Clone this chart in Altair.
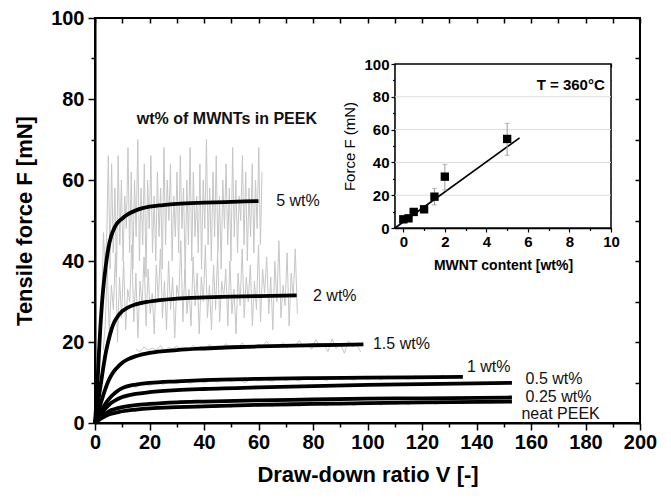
import altair as alt
import pandas as pd

FONT = "Liberation Sans"

# ---------------- data: fitted curves (main plot) ----------------
fit_series = ["5 wt%", "2 wt%", "1.5 wt%", "1 wt%", "0.5 wt%", "0.25 wt%", "neat PEEK"]
fit_v = {
    "5 wt%": [0, 0.5, 1, 1.5, 2, 2.5, 3, 4, 5, 6, 7, 8, 10, 12, 15, 20, 25, 30, 40, 50, 60],
    "2 wt%": [0, 1, 2, 3, 4, 5, 6, 7, 8, 10, 12, 15, 20, 30, 40, 50, 60, 74],
    "1.5 wt%": [0, 1, 2, 3, 4, 5, 6, 7, 8, 10, 12, 15, 20, 30, 40, 50, 60, 80, 98.5],
    "1 wt%": [0, 1, 2, 3, 4, 6, 8, 10, 15, 20, 30, 40, 60, 80, 100, 135],
    "0.5 wt%": [0, 1, 2, 3, 4, 6, 8, 10, 15, 20, 30, 40, 60, 80, 100, 120, 153],
    "0.25 wt%": [0, 1, 2, 3, 4, 6, 8, 10, 15, 20, 30, 40, 60, 80, 100, 120, 153],
    "neat PEEK": [0, 1, 2, 3, 4, 6, 8, 10, 15, 20, 30, 40, 60, 80, 100, 120, 153],
}
fit_f = {
    "5 wt%": [0, 5, 11, 18, 24, 29, 33, 39, 43.5, 46.3, 48.0, 49.2, 50.5, 51.5, 52.5, 53.4, 53.8, 54.1, 54.4, 54.6, 54.8],
    "2 wt%": [0, 4.5, 9, 13.5, 17.5, 20.5, 23, 24.8, 26, 27.6, 28.5, 29.3, 30, 30.7, 31, 31.2, 31.35, 31.5],
    "1.5 wt%": [0, 2.3, 4.6, 6.8, 8.8, 10.5, 11.8, 12.8, 13.6, 14.9, 15.7, 16.5, 17.3, 18.0, 18.4, 18.7, 18.9, 19.2, 19.4],
    "1 wt%": [0, 1.3, 2.6, 3.8, 4.9, 6.6, 7.8, 8.6, 9.5, 9.9, 10.3, 10.6, 10.9, 11.1, 11.2, 11.4],
    "0.5 wt%": [0, 1.0, 2.0, 2.9, 3.7, 5.0, 5.8, 6.4, 7.2, 7.6, 8.1, 8.4, 8.8, 9.1, 9.4, 9.6, 9.9],
    "0.25 wt%": [0, 0.7, 1.3, 1.9, 2.4, 3.2, 3.6, 3.9, 4.4, 4.7, 5.1, 5.3, 5.6, 5.8, 6.0, 6.1, 6.3],
    "neat PEEK": [0, 0.5, 1.0, 1.4, 1.8, 2.3, 2.6, 2.9, 3.3, 3.6, 3.9, 4.1, 4.5, 4.7, 4.9, 5.1, 5.3],
}

# ---------------- data: raw (noisy) measurements ----------------
raw_start = {"5 wt%": 2.5, "2 wt%": 3.0, "1.5 wt%": 15.0, "1 wt%": 10.0, "neat PEEK": 10.0}
raw_step = {"5 wt%": 0.6, "2 wt%": 0.75, "1.5 wt%": 1.5, "1 wt%": 2.5, "neat PEEK": 2.5}
raw_f = {
    "5 wt%": [30, 47, 38, 46, 66, 38, 64, 42, 58, 36, 66, 44, 60, 40, 56, 48, 68, 42, 62, 38, 60, 46,
              70, 40, 58, 44, 64, 36, 60, 48, 66, 42, 56, 40, 62, 46, 58, 38, 68, 44, 60, 50, 64, 40,
              56, 46, 62, 42, 66, 48, 58, 36, 60, 44, 68, 40, 62, 46, 56, 42, 64, 38, 60, 48, 70, 44,
              58, 40, 62, 46, 66, 42, 56, 38, 60, 48, 64, 44, 58, 40, 68, 46, 60, 42, 56, 50, 66, 44,
              62, 40, 58, 46, 64, 42, 60, 48, 68, 44, 62],
    "2 wt%": [18, 24, 38, 22, 34, 28, 42, 20, 36, 26, 40, 23, 33, 30, 44, 25, 37, 21, 35, 29, 41, 24,
              38, 27, 32, 22, 39, 30, 43, 26, 35, 23, 40, 28, 36, 21, 34, 31, 45, 25, 38, 27, 33, 24,
              41, 29, 37, 22, 36, 30, 44, 26, 34, 23, 39, 28, 42, 25, 35, 31, 38, 24, 40, 27, 33, 22,
              37, 29, 43, 26, 36, 30, 39, 24, 35, 28, 44, 25, 38, 32, 41, 27, 36, 23, 40, 30, 45, 26,
              34, 29, 42, 24, 37, 31, 43, 27],
    "1.5 wt%": [18.2, 17.6, 18.8, 17.9, 18.5, 18.0, 19.1, 17.7, 18.6, 18.3, 19.0, 18.1, 18.7, 17.8,
                19.2, 18.4, 18.9, 18.0, 19.4, 18.5, 19.0, 18.2, 19.6, 18.6, 19.1, 18.3, 19.8, 18.7,
                19.2, 18.4, 19.5, 18.9, 20.2, 18.6, 19.3, 18.8, 19.9, 18.5, 19.4, 19.0, 20.4, 18.7,
                19.6, 18.2, 20.6, 18.9, 19.5, 17.6, 20.8, 18.4, 19.7, 17.2, 20.3, 18.8, 19.5, 17.5],
    "1 wt%": [8.2, 9.3, 8.8, 9.9, 9.2, 10.1, 9.5, 10.4, 9.7, 10.3, 9.8, 10.6, 9.9, 10.5, 10.1, 10.9,
              10.2, 10.7, 10.0, 11.0, 10.4, 10.8, 10.3, 11.2, 10.5, 10.9, 10.4, 11.3, 10.6, 11.0, 10.5,
              11.4, 10.7, 11.1, 10.6, 11.5, 10.8, 11.2, 10.7, 11.6, 10.9, 11.3, 10.8, 11.7, 11.0, 11.4,
              10.9, 11.8, 11.1],
    "neat PEEK": [2.6, 3.5, 3.0, 3.8, 3.3, 4.0, 3.4, 4.2, 3.6, 4.3, 3.7, 4.5, 3.8, 4.4, 3.9, 4.6, 3.8,
                  4.7, 4.0, 4.6, 4.1, 4.8, 4.0, 4.9, 4.2, 4.8, 4.1, 5.0, 4.3, 4.9, 4.2, 5.1, 4.4, 5.0,
                  4.3, 5.2, 4.5, 5.1, 4.4, 5.3, 4.6, 5.2, 4.5, 5.4, 4.7, 5.3, 4.6, 5.5, 4.8, 5.4, 4.7,
                  5.6, 4.9, 5.5, 4.8, 5.7, 5.0],
}

# ---------------- data: curve labels ----------------
label_text = ["5 wt%", "2 wt%", "1.5 wt%", "1 wt%", "0.5 wt%", "0.25 wt%", "neat PEEK"]
label_v = [66.5, 80, 102, 136.5, 158, 158, 156.5]
label_f = [54.8, 31.4, 19.5, 13.8, 10.8, 6.4, 2.2]

# ---------------- data: inset ----------------
inset_x = [0, 0.25, 0.5, 1, 1.5, 2, 5]
inset_f = [5.3, 5.9, 9.8, 11.4, 19.1, 31.3, 54.3]
inset_lo = [4.5, 5.0, 9.0, 10.5, 14.0, 23.2, 44.3]
inset_hi = [6.1, 6.8, 10.6, 12.3, 24.2, 38.8, 63.8]
inset_fit_x = [-0.4, 5.6]
inset_fit_f = [0, 55]
inset_grid = [20, 40, 60, 80]

# ---------------- tables ----------------
fit_rows = []
for s in fit_series:
    for v, f in zip(fit_v[s], fit_f[s]):
        fit_rows.append({"series": s, "V": v, "F": f})
fit_df = pd.DataFrame(fit_rows)

raw_rows = []
for s, vals in raw_f.items():
    for i, f in enumerate(vals):
        raw_rows.append({"series": s, "V": raw_start[s] + raw_step[s] * i, "F": f})
raw_df = pd.DataFrame(raw_rows)

lab_df = pd.DataFrame({"t": label_text, "V": label_v, "F": label_f})
head_df = pd.DataFrame({"t": ["wt% of MWNTs in PEEK"], "V": [48.4], "F": [75]})

pts_df = pd.DataFrame({"x": inset_x, "f": inset_f, "lo": inset_lo, "hi": inset_hi})
caps_df = pd.DataFrame({"x": inset_x + inset_x, "c": inset_lo + inset_hi})
fitin_df = pd.DataFrame({"x": inset_fit_x, "f": inset_fit_f})
grid_df = pd.DataFrame({"g": inset_grid, "x0": [-0.4] * 4, "x1": [10] * 4})
frame_df = pd.DataFrame({"x0": [-0.4], "x1": [10], "y0": [0], "y1": [100]})
tlab_df = pd.DataFrame({"t": ["T = 360°C"], "x": [9.7], "f": [87]})

# ---------------- scales ----------------
W, H = 545, 405
XM = alt.Scale(domain=[0, 200], nice=False, zero=False)
YM = alt.Scale(domain=[0, 100], nice=False, zero=False)
IX0, IX1, IY0, IY1 = 300, 516, 210, 46
XI = alt.Scale(domain=[-0.4, 10], range=[IX0, IX1], nice=False, zero=False)
YI = alt.Scale(domain=[0, 100], range=[IY0, IY1], nice=False, zero=False)

tick_main_x = {"condition": {"test": "datum.value % 20 === 0", "value": 7}, "value": 4}
tick_in_x = {"condition": {"test": "datum.value % 2 === 0", "value": 4}, "value": 2.5}
tick_in_y = {"condition": {"test": "datum.value % 20 === 0", "value": 4}, "value": 2.5}

ax_main_bottom = alt.Axis(
    orient="bottom", values=list(range(0, 201, 10)),
    labelExpr="datum.value % 20 === 0 ? datum.label : ''",
    tickSize=tick_main_x, tickWidth=1.5, tickColor="black",
    domainColor="black", domainWidth=2, grid=False,
    labelFont=FONT, labelFontSize=20, labelFontWeight="bold", labelColor="black",
    labelPadding=2, labelFlush=False, labelOverlap=False,
    title="Draw-down ratio V [-]", titleFont=FONT, titleFontSize=22,
    titleFontWeight="bold", titleColor="black", titlePadding=12,
)
ax_main_left = alt.Axis(
    orient="left", values=list(range(0, 101, 10)),
    labelExpr="datum.value % 20 === 0 ? datum.label : ''",
    tickSize=tick_main_x, tickWidth=1.5, tickColor="black",
    domainColor="black", domainWidth=2, grid=False,
    labelFont=FONT, labelFontSize=20, labelFontWeight="bold", labelColor="black",
    labelPadding=4, labelFlush=False, labelOverlap=False,
    title="Tensile force F [mN]", titleFont=FONT, titleFontSize=22,
    titleFontWeight="bold", titleColor="black", titlePadding=14,
)
ax_main_top = alt.Axis(
    orient="top", values=list(range(0, 201, 10)), labels=False, domain=False,
    tickSize=5, offset=-5, tickWidth=1.5, tickColor="black", grid=False, title=None,
)
ax_main_right = alt.Axis(
    orient="right", values=list(range(0, 101, 10)), labels=False, domain=False,
    tickSize=5, offset=-5, tickWidth=1.5, tickColor="black", grid=False, title=None,
)
ax_in_bottom = alt.Axis(
    orient="bottom", offset=-(H - IY0), values=list(range(0, 11)),
    labelExpr="datum.value % 2 === 0 ? datum.label : ''",
    tickSize=tick_in_x, tickWidth=1.2, tickColor="black",
    domainColor="black", domainWidth=1.5, grid=False,
    labelFont=FONT, labelFontSize=15, labelFontWeight="bold", labelColor="black",
    labelPadding=2, labelFlush=False, labelOverlap=False,
    title="MWNT content [wt%]", titleFont=FONT, titleFontSize=14,
    titleFontWeight="bold", titleColor="black", titlePadding=9,
)
ax_in_left = alt.Axis(
    orient="left", offset=-IX0, values=list(range(0, 101, 10)),
    labelExpr="datum.value % 20 === 0 ? datum.label : ''",
    tickSize=tick_in_y, tickWidth=1.2, tickColor="black",
    domainColor="black", domainWidth=1.5, grid=False,
    labelFont=FONT, labelFontSize=15, labelFontWeight="bold", labelColor="black",
    labelPadding=2, labelFlush=False, labelOverlap=False,
    title="Force F (mN)", titleFont=FONT, titleFontSize=15,
    titleFontWeight="normal", titleColor="black", titlePadding=6,
)
ax_in_top = alt.Axis(
    orient="top", offset=-(IY1 + 3), values=list(range(0, 11)), labels=False, domain=False,
    tickSize=3, tickWidth=1.2, tickColor="black", grid=False, title=None,
)
ax_in_right = alt.Axis(
    orient="right", offset=(IX1 - 3) - W, values=list(range(0, 101, 10)), labels=False,
    domain=False, tickSize=3, tickWidth=1.2, tickColor="black", grid=False, title=None,
)

# ---------------- layers ----------------
raw = alt.Chart(raw_df).mark_line(color="#c6c6c6", strokeWidth=1).encode(
    x=alt.X("V:Q", scale=XM, axis=ax_main_bottom),
    y=alt.Y("F:Q", scale=YM, axis=ax_main_left),
    detail="series:N",
)
fits = alt.Chart(fit_df).mark_line(color="black", strokeWidth=3.8, interpolate="monotone").encode(
    x=alt.X("V:Q", scale=XM, axis=ax_main_top),
    y=alt.Y("F:Q", scale=YM, axis=ax_main_right),
    detail="series:N",
)
labels = alt.Chart(lab_df).mark_text(
    align="left", baseline="middle", font=FONT, fontSize=16, color="#111111"
).encode(
    x=alt.X("V:Q", scale=XM, axis=None),
    y=alt.Y("F:Q", scale=YM, axis=None),
    text="t:N",
)
head = alt.Chart(head_df).mark_text(
    align="center", baseline="middle", font=FONT, fontSize=16, fontWeight="bold", color="#111111"
).encode(
    x=alt.X("V:Q", scale=XM, axis=None),
    y=alt.Y("F:Q", scale=YM, axis=None),
    text="t:N",
)

frame = alt.Chart(frame_df).mark_rect(fill="white", stroke="black", strokeWidth=1.5).encode(
    x=alt.X("x0:Q", scale=XI, axis=ax_in_bottom),
    x2="x1:Q",
    y=alt.Y("y0:Q", scale=YI, axis=ax_in_left),
    y2="y1:Q",
)
grid = alt.Chart(grid_df).mark_rule(color="#dcdcdc", strokeWidth=1).encode(
    x=alt.X("x0:Q", scale=XI, axis=ax_in_top),
    x2="x1:Q",
    y=alt.Y("g:Q", scale=YI, axis=ax_in_right),
)
fit_in = alt.Chart(fitin_df).mark_line(color="black", strokeWidth=1.6).encode(
    x=alt.X("x:Q", scale=XI, axis=None),
    y=alt.Y("f:Q", scale=YI, axis=None),
)
err = alt.Chart(pts_df).mark_rule(color="#9a9a9a", strokeWidth=1).encode(
    x=alt.X("x:Q", scale=XI, axis=None),
    y=alt.Y("lo:Q", scale=YI, axis=None),
    y2="hi:Q",
)
caps = alt.Chart(caps_df).mark_tick(color="#9a9a9a", orient="horizontal", size=5, thickness=1).encode(
    x=alt.X("x:Q", scale=XI, axis=None),
    y=alt.Y("c:Q", scale=YI, axis=None),
)
pts = alt.Chart(pts_df).mark_square(size=70, color="black", opacity=1).encode(
    x=alt.X("x:Q", scale=XI, axis=None),
    y=alt.Y("f:Q", scale=YI, axis=None),
)
tlab = alt.Chart(tlab_df).mark_text(
    align="right", baseline="middle", font=FONT, fontSize=15, fontWeight="bold", color="black"
).encode(
    x=alt.X("x:Q", scale=XI, axis=None),
    y=alt.Y("f:Q", scale=YI, axis=None),
    text="t:N",
)

chart = alt.layer(
    raw, fits, labels, head, frame, grid, fit_in, err, caps, pts, tlab
).resolve_scale(
    x="independent", y="independent"
).properties(
    width=W, height=H,
    padding={"left": 87, "top": 10, "right": 20, "bottom": 67},
    autosize=alt.AutoSizeParams(type="none"),
).configure_view(
    stroke="black", strokeWidth=2
)

chart.save("out.html", embed_options={"renderer": "svg", "actions": False})
